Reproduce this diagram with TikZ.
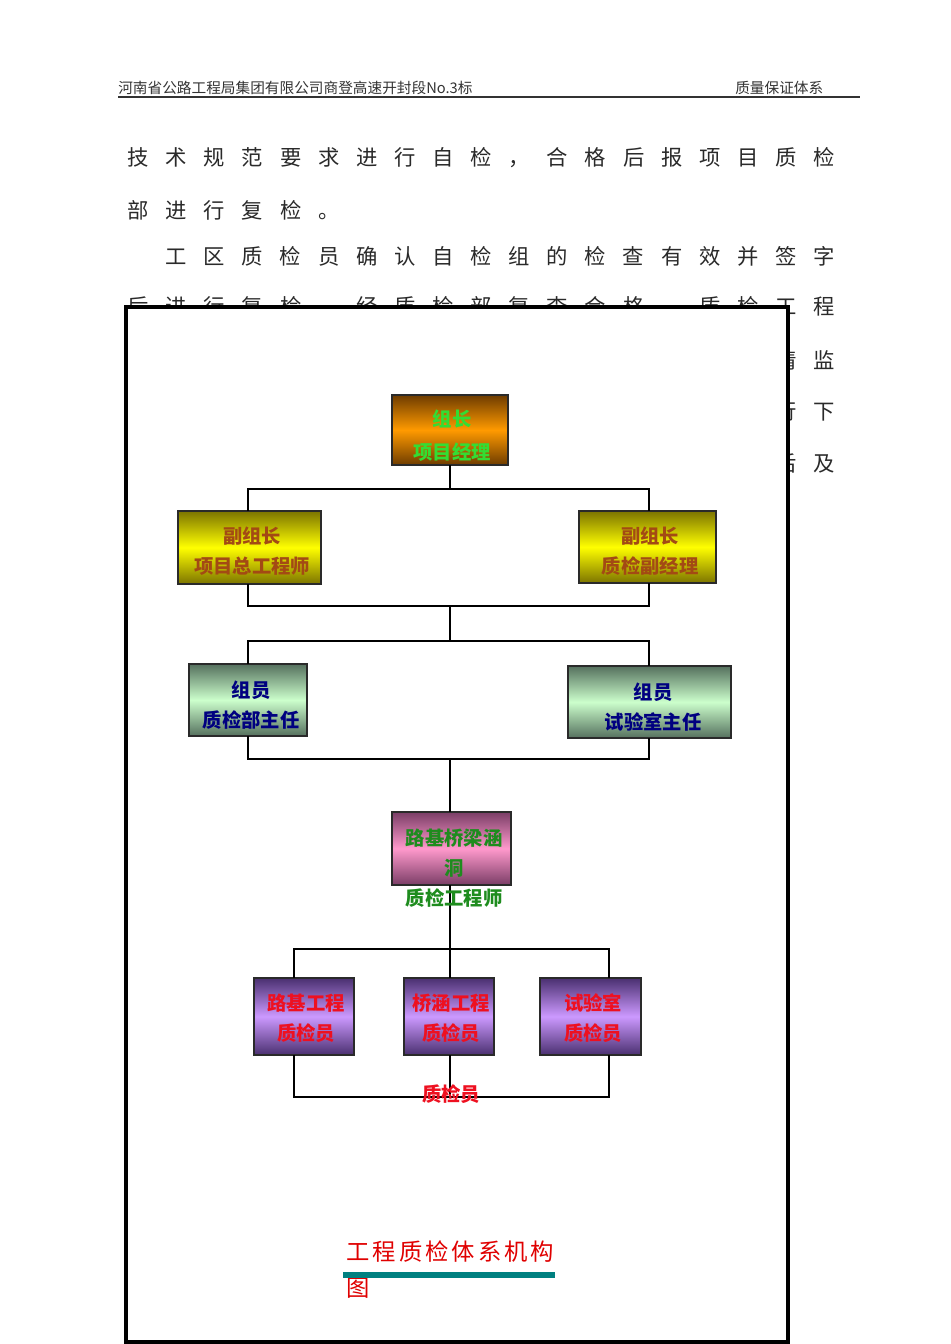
\documentclass[tikz,border=0pt]{standalone}
\usepackage{fontspec}
\setmainfont{Noto Sans CJK SC}
\usetikzlibrary{calc}
\definecolor{bodyc}{HTML}{2A2A2A}
\definecolor{headc}{HTML}{333333}
\definecolor{boxline}{HTML}{2A2A2A}
\definecolor{orDark}{HTML}{6E3C00}
\definecolor{orMid}{HTML}{FF9A00}
\definecolor{yeDark}{HTML}{7C7400}
\definecolor{yeMid}{HTML}{FFFF00}
\definecolor{grDark}{HTML}{55705E}
\definecolor{grMid}{HTML}{CCFFCC}
\definecolor{pkDark}{HTML}{7A3D66}
\definecolor{pkMid}{HTML}{FF99CC}
\definecolor{puDark}{HTML}{4A3070}
\definecolor{puMid}{HTML}{CC99FF}
\definecolor{topText}{HTML}{33DD33}
\definecolor{yeText}{HTML}{A34A14}
\definecolor{grText}{HTML}{000080}
\definecolor{pkText}{HTML}{1E8C1E}
\definecolor{puText}{HTML}{EE1020}
\definecolor{titleRed}{HTML}{E00000}
\definecolor{tealbar}{HTML}{008080}
\def\sploop#1{\ifx\relax#1\else\makebox[\sppitch][c]{#1}\expandafter\sploop\fi}
\newcommand\spcjk[2]{\def\sppitch{#1}\sploop#2\relax}
\tikzset{
  bodyt/.style={anchor=west, inner sep=0pt, text=bodyc, font=\fontsize{16}{16}\selectfont},
  headt/.style={anchor=west, inner sep=0pt, text=headc, font=\fontsize{11}{11}\selectfont},
  box/.style={draw=boxline, line width=1.1pt, inner sep=0pt, outer sep=0pt},
  orbox/.style={box, top color=orDark, bottom color=orDark, middle color=orMid},
  yebox/.style={box, top color=yeDark, bottom color=yeDark, middle color=yeMid},
  grbox/.style={box, top color=grDark, bottom color=grDark, middle color=grMid},
  pkbox/.style={box, top color=pkDark, bottom color=pkDark, middle color=pkMid},
  pubox/.style={box, top color=puDark, bottom color=puDark, middle color=puMid},
  lbl/.style={align=center, inner sep=0pt, font=\bfseries\fontsize{14.5}{22.5}\selectfont},
  conn/.style={draw=black, line width=1pt},
  titlet/.style={anchor=west, inner sep=0pt, text=titleRed, font=\fontsize{17.5}{17.5}\selectfont},
}
\begin{document}
\begin{tikzpicture}[x=0.75pt,y=-0.75pt]
\useasboundingbox (0,0) rectangle (950,1344);
\fill[white] (0,0) rectangle (950,1344);
% header
\node[headt] (hl) at (118,88) {河南省公路工程局集团有限公司商登高速开封段No.3标};
\node[headt] (hr) at (735,88) {质量保证体系};
\draw[headc, line width=1.5pt] (118,97.5) coordinate (hla) -- (860,97.5) coordinate (hlb);
% body text
\node[bodyt] (t1) at (119,158) {\spcjk{28.58pt}{技术规范要求进行自检，合格后报项目质检}};
\node[bodyt] (t2) at (119,210) {\spcjk{28.58pt}{部进行复检。}};
\node[bodyt] (t3) at (157,256) {\spcjk{28.58pt}{工区质检员确认自检组的检查有效并签字}};
\node[bodyt] (t4) at (119,307) {\spcjk{28.58pt}{后进行复检，经质检部复查合格，质检工程}};
\node[bodyt] (t5) at (767,360) {\spcjk{28.58pt}{请监}};
\node[bodyt] (t6) at (767,411) {\spcjk{28.58pt}{行下}};
\node[bodyt] (t7) at (767,463) {\spcjk{28.58pt}{后及}};
% frame
\draw[black, line width=3pt, fill=white] (126,307) rectangle (788,1342);
% boxes
\node[orbox, minimum width=87pt, minimum height=52.5pt] (top) at (450,430) {};
\node[lbl, text=topText, font=\bfseries\fontsize{14.5}{24.75}\selectfont] (toptx) at (452,435.5) {组长\\项目经理};
\node[yebox, minimum width=107.25pt, minimum height=54.75pt] (l1) at (249.5,547.5) {};
\node[lbl, text=yeText] (l1tx) at (252,551.5) {副组长\\项目总工程师};
\node[yebox, minimum width=102.75pt, minimum height=54pt] (r1) at (647.5,547) {};
\node[lbl, text=yeText] (r1tx) at (650,551.5) {副组长\\质检副经理};
\node[grbox, minimum width=88.5pt, minimum height=54pt] (l2) at (248,700) {};
\node[lbl, text=grText] (l2tx) at (251,705) {组员\\质检部主任};
\node[grbox, minimum width=122.25pt, minimum height=54pt] (r2) at (649.5,702) {};
\node[lbl, text=grText] (r2tx) at (653,707) {组员\\试验室主任};
\node[pkbox, minimum width=89.25pt, minimum height=54.75pt] (pk) at (451.5,848.5) {};
\node[pubox, minimum width=75pt, minimum height=57.75pt] (p1) at (304,1016.5) {};
\node[pubox, minimum width=67.5pt, minimum height=57.75pt] (p2) at (449,1016.5) {};
\node[pubox, minimum width=75.75pt, minimum height=57.75pt] (p3) at (590.5,1016.5) {};
% connectors
\coordinate (b1) at (450,489);
\coordinate (b2a) at (248,606);
\coordinate (b2m) at (450,606);
\coordinate (b2b) at (649,606);
\coordinate (b3a) at (248,641);
\coordinate (b3m) at (450,641);
\coordinate (b3b) at (649,641);
\coordinate (b4a) at (248,759);
\coordinate (b4m) at (450,759);
\coordinate (b4b) at (649,759);
\coordinate (k1) at (294,949);
\coordinate (k2) at (450,949);
\coordinate (k3) at (609,949);
\coordinate (m1) at (294,1097);
\coordinate (m2) at (450,1097);
\coordinate (m3) at (609,1097);
\draw[conn] (top.south -| b1) -- (b1);
\draw[conn] (l1.north -| b2a) |- (b1) -| (r1.north -| b2b);
\draw[conn] (l1.south -| b2a) -- (b2a) -- (b2b) -- (r1.south -| b2b);
\draw[conn] (b2m) -- (b3m);
\draw[conn] (l2.north -| b3a) -- (b3a) -- (b3b) -- (r2.north -| b3b);
\draw[conn] (l2.south -| b4a) -- (b4a) -- (b4b) -- (r2.south -| b4b);
\draw[conn] (b4m) -- (pk.north -| b4m);
\draw[conn] (pk.south -| k2) -- (k2);
\draw[conn] (p1.north -| k1) -- (k1) -- (k3) -- (p3.north -| k3);
\draw[conn] (k2) -- (p2.north -| k2);
\draw[conn] (p1.south -| m1) -- (m1) -- (m3) -- (p3.south -| m3);
\draw[conn] (p2.south -| m2) -- (m2);
% labels over boxes
\node[lbl, text=pkText] (pktx) at (454,868) {路基桥梁涵\\洞\\质检工程师};
\node[lbl, text=puText] (p1tx) at (306,1018) {路基工程\\质检员};
\node[lbl, text=puText] (p2tx) at (451,1018) {桥涵工程\\质检员};
\node[lbl, text=puText] (p3tx) at (593,1018) {试验室\\质检员};
\node[lbl, text=puText] (qjy) at (451,1094) {质检员};
% title
\node[titlet] (title) at (345,1252) {\spcjk{19.7pt}{工程质检体系机构}};
\node[titlet] (title2) at (345,1288) {\spcjk{19.7pt}{图}};
\fill[tealbar] (343,1272) rectangle (555,1278);
\end{tikzpicture}
\end{document}
